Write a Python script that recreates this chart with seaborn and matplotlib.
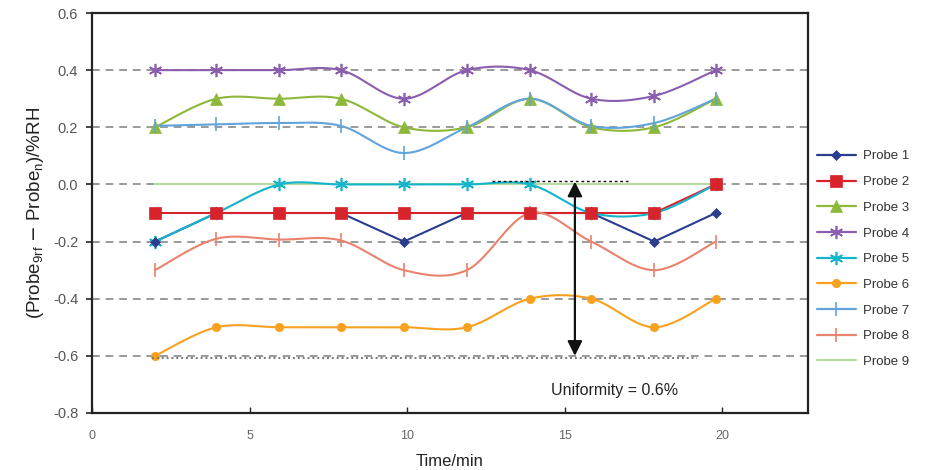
import numpy as np
import pandas as pd
import matplotlib
matplotlib.use("Agg")
import matplotlib.pyplot as plt
from matplotlib.lines import Line2D
import seaborn as sns

sns.set_theme(style="white")
plt.rcParams['font.family'] = ['Liberation Sans', 'DejaVu Sans']

# ---------------- data ----------------
time_min = [2.0, 3.95, 5.95, 7.9, 9.9, 11.9, 13.9, 15.85, 17.85, 19.8]
probe1 = [-0.2, -0.1, -0.1, -0.1, -0.2, -0.1, -0.1, -0.1, -0.2, -0.1]
probe2 = [-0.1, -0.1, -0.1, -0.1, -0.1, -0.1, -0.1, -0.1, -0.1, 0.0]
probe3 = [0.2, 0.3, 0.3, 0.3, 0.2, 0.2, 0.3, 0.2, 0.2, 0.3]
probe4 = [0.4, 0.4, 0.4, 0.4, 0.3, 0.4, 0.4, 0.3, 0.31, 0.4]
probe5 = [-0.2, -0.1, 0.0, 0.0, 0.0, 0.0, 0.0, -0.1, -0.1, 0.0]
probe6 = [-0.6, -0.5, -0.5, -0.5, -0.5, -0.5, -0.4, -0.4, -0.5, -0.4]
probe7 = [0.205, 0.21, 0.215, 0.205, 0.11, 0.2, 0.3, 0.205, 0.215, 0.3]
probe8 = [-0.3, -0.19, -0.193, -0.196, -0.3, -0.3, -0.1, -0.2, -0.3, -0.2]
probe9 = [0.0, 0.0, 0.0, 0.0, 0.0, 0.0, 0.0, 0.0, 0.0, 0.0]

labels = ["Probe 1", "Probe 2", "Probe 3", "Probe 4", "Probe 5",
          "Probe 6", "Probe 7", "Probe 8", "Probe 9"]
series = [probe1, probe2, probe3, probe4, probe5, probe6, probe7, probe8, probe9]

y_ticks = [-0.8, -0.6, -0.4, -0.2, 0.0, 0.2, 0.4, 0.6]
x_ticks = [0, 5, 10, 15, 20]
grid_levels = [-0.6, -0.4, -0.2, 0.0, 0.2, 0.4]

uniformity_x = 15.33
uniformity_top = 0.01
uniformity_bottom = -0.6
uniformity_text = "Uniformity = 0.6%"

# ---------------- styles ----------------
colors = ["#2A3D8F", "#D6232C", "#8DB83B", "#8A5DAF", "#14B4CB",
          "#F8A11E", "#61A4DC", "#E9836D", "#B7DA9F"]
asterisk = (6, 2, 0)
markers = ["D", "s", "^", asterisk, asterisk, "o", "|", "|", None]
msizes = [5.5, 8, 9, 9.5, 9.5, 6, 10, 10, 0]
smooth = [False, False, True, True, True, True, True, True, False]
line_z = [3.0, 3.1, 3.2, 3.3, 3.4, 3.5, 3.6, 3.7, 2.9]
marker_z = [5.5, 6.0, 4.2, 4.3, 4.1, 4.5, 4.6, 4.7, 4.0]


def smooth_curve(xs, ys, n=30):
    """Excel-like smoothed line (Bezier through the data points)."""
    P = np.column_stack([xs, ys]).astype(float)
    m = len(P)
    out = [P[0]]
    t = np.linspace(0, 1, n)[1:, None]
    for i in range(m - 1):
        p0 = P[max(i - 1, 0)]
        p1 = P[i]
        p2 = P[i + 1]
        p3 = P[min(i + 2, m - 1)]
        c1 = p1 + (p2 - p0) / 6.0
        c2 = p2 - (p3 - p1) / 6.0
        seg = ((1 - t) ** 3) * p1 + 3 * ((1 - t) ** 2) * t * c1 + 3 * (1 - t) * t ** 2 * c2 + t ** 3 * p2
        out.extend(seg)
    out = np.array(out)
    return out[:, 0], out[:, 1]


fig = plt.figure(figsize=(9.25, 4.7), dpi=100)
ax = fig.add_axes([0.0995, 0.1213, 0.774, 0.851])

for lvl in grid_levels:
    ax.axhline(lvl, color="#9A9A9A", lw=1.4, ls=(0, (4, 3)), zorder=1)

handles = []
for lab, ys, c, mk, ms, sm, lz, mz in zip(labels, series, colors, markers, msizes,
                                          smooth, line_z, marker_z):
    if sm:
        cx, cy = smooth_curve(time_min, ys)
    else:
        cx, cy = np.array(time_min), np.array(ys)
    sns.lineplot(x=cx, y=cy, ax=ax, color=c, lw=1.5, sort=False,
                 estimator=None, zorder=lz, legend=False)
    mew = 1.2 if mk in ("|", asterisk) else 0.5
    if mk is not None:
        df = pd.DataFrame({"t": time_min, "v": ys})
        ax.plot(df["t"], df["v"], ls="none", marker=mk, ms=ms, color=c,
                mec=c, mew=mew, zorder=mz)
    handles.append(Line2D([], [], color=c, lw=1.6, marker=mk,
                          ms=(ms if mk is not None else 0), mew=mew))

# reference dotted lines for uniformity
ax.hlines(0.013, 12.7, 17.0, colors="#111111", lw=1.0, linestyles=(0, (2, 2)), zorder=5)
ax.hlines(-0.607, 1.9, 19.2, colors="#777777", lw=1.4, linestyles=(0, (1, 1.5)), zorder=5)

ax.annotate("", xy=(uniformity_x, uniformity_top), xytext=(uniformity_x, uniformity_bottom),
            arrowprops=dict(arrowstyle="<|-|>", color="#111111", lw=1.6,
                            mutation_scale=22, shrinkA=0, shrinkB=0),
            zorder=7)
ax.text(16.6, -0.72, uniformity_text, ha="center", va="center", fontsize=11.5, color="#222222")

ax.set_xlim(0, 22.73)
ax.set_ylim(-0.8, 0.6)
ax.set_yticks(y_ticks)
ax.set_yticklabels([f"{v:.1f}" for v in y_ticks])
ax.set_xticks(x_ticks)
ax.tick_params(axis="y", direction="inout", length=8, width=1.2, labelsize=10.5,
               labelcolor="#555555", color="#222222", pad=6, left=True)
ax.tick_params(axis="x", direction="in", length=4, width=1.0, labelsize=9,
               labelcolor="#666666", color="#222222", pad=12, bottom=True)
for s in ax.spines.values():
    s.set_visible(True)
    s.set_color("#222222")
    s.set_linewidth(1.6)

ax.set_xlabel("Time/min", fontsize=12, color="#222222", labelpad=9)
ax.set_ylabel(r"(Probe$_{\mathregular{9rf}}$ $-$ Probe$_{\mathregular{n}}$)/%RH",
              fontsize=13.5, color="#222222", labelpad=5)

leg = ax.legend(handles, labels, loc="upper left", bbox_to_anchor=(1.012, 0.657),
                frameon=False, fontsize=9.5, handlelength=3.0, handletextpad=0.5,
                labelspacing=1.02, borderaxespad=0, borderpad=0)
for t in leg.get_texts():
    t.set_color("#333333")

fig.savefig("out.png", dpi=100)
